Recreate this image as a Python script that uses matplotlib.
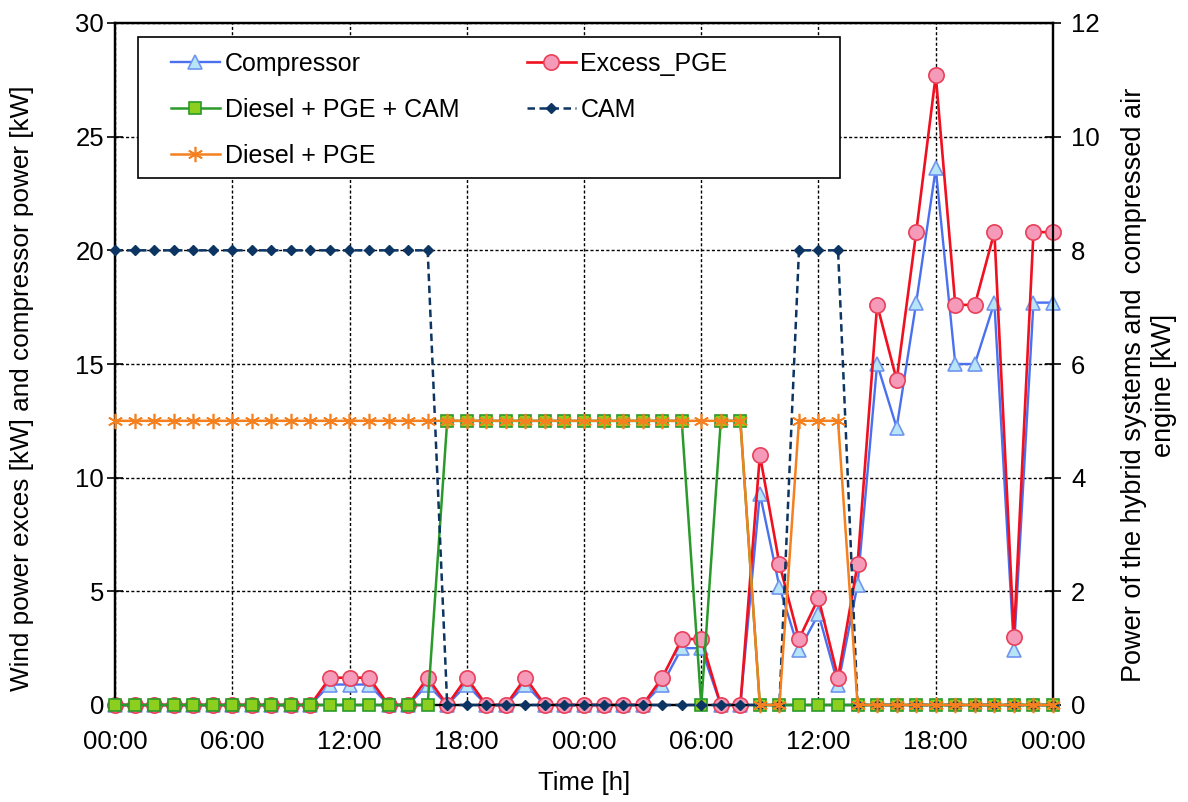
import numpy as np
import matplotlib
matplotlib.use("Agg")
import matplotlib.pyplot as plt
from matplotlib.patches import Rectangle

plt.rcParams['font.family'] = ['Liberation Sans', 'DejaVu Sans']

hours = list(range(49))
tick_hours = [0, 6, 12, 18, 24, 30, 36, 42, 48]
tick_labels = ["00:00", "06:00", "12:00", "18:00", "00:00", "06:00", "12:00", "18:00", "00:00"]

compressor = [0]*11 + [0.9, 0.9, 0.9, 0, 0, 0.9, 0, 0.9, 0, 0, 0.9,
                       0, 0, 0, 0, 0, 0, 0.9, 2.5, 2.5, 0, 0,
                       9.3, 5.2, 2.4, 4.0, 0.9, 5.3, 15.0, 12.2, 17.7, 23.6,
                       15.0, 15.0, 17.7, 2.4, 17.7, 17.7]
excess_pge = [0]*11 + [1.2, 1.2, 1.2, 0, 0, 1.2, 0, 1.2, 0, 0, 1.2,
                       0, 0, 0, 0, 0, 0, 1.2, 2.9, 2.9, 0, 0,
                       11.0, 6.2, 2.9, 4.7, 1.2, 6.2, 17.6, 14.3, 20.8, 27.7,
                       17.6, 17.6, 20.8, 3.0, 20.8, 20.8]
cam = [8]*17 + [0]*18 + [8, 8, 8] + [0]*11
diesel_pge_cam = [0]*17 + [5]*13 + [0, 5, 5] + [0]*16
diesel_pge = [5]*33 + [0, 0, 5, 5, 5] + [0]*11

W, H = 1188, 802
fig = plt.figure(figsize=(W/100, H/100), dpi=100)
ax = fig.add_axes([115/W, 1-705/H, (1053-115)/W, (705-23)/H])
ax2 = ax.twinx()

c_comp_line = '#4a70f0'
c_comp_face = '#b8e4f8'
c_comp_edge = '#6f95f0'
c_exc_line = '#f01020'
c_exc_face = '#f59ab8'
c_exc_edge = '#e8405a'
c_green = '#2a9a2a'
c_green_face = '#8ccf1e'
c_cam = '#0d3563'
c_orange = '#f5801f'

l1, = ax.plot(hours, compressor, color=c_comp_line, lw=1.7, marker='^', ms=10,
              mfc=c_comp_face, mec=c_comp_edge, mew=1.2, clip_on=False, zorder=3,
              label='Compressor')
l2, = ax.plot(hours, excess_pge, color=c_exc_line, lw=1.9, marker='o', ms=11,
              mfc=c_exc_face, mec=c_exc_edge, mew=1.2, clip_on=False, zorder=4,
              label='Excess_PGE')

l3, = ax2.plot(hours, diesel_pge_cam, color=c_green, lw=1.8, marker='s', ms=8.5,
               mfc=c_green_face, mec=c_green, mew=1.2, clip_on=False, zorder=3,
               label='Diesel + PGE + CAM')
l4, = ax2.plot(hours, cam, color=c_cam, lw=1.8, ls=(0, (3, 1.8)), marker='D', ms=5.5,
               mfc=c_cam, mec=c_cam, clip_on=False, zorder=4, label='CAM')
l5, = ax2.plot(hours, diesel_pge, color=c_orange, lw=1.8, marker=(6, 2, 0), ms=11,
               mec=c_orange, mew=1.2, clip_on=False, zorder=5, label='Diesel + PGE')

ax.set_xlim(0, 48)
ax.set_ylim(0, 30)
ax2.set_ylim(0, 12)
ax.set_xticks(tick_hours)
ax.set_xticklabels(tick_labels)
ax.set_yticks([0, 5, 10, 15, 20, 25, 30])
ax2.set_yticks([0, 2, 4, 6, 8, 10, 12])

ax.grid(True, color='black', lw=1.0, ls=(0, (2.2, 1.6)))
ax.set_axisbelow(True)

for a in (ax, ax2):
    for s in a.spines.values():
        s.set_linewidth(1.6)
        s.set_color('black')

FS = 18.5
ax.tick_params(axis='y', direction='inout', length=12, width=1.2, labelsize=FS, pad=2)
ax2.tick_params(axis='y', direction='inout', length=12, width=1.2, labelsize=FS, pad=7)
ax.tick_params(axis='x', length=0, labelsize=FS, pad=18)

ax.set_xlabel('Time [h]', fontsize=FS, labelpad=12)

fig.text(22/W, 1-388/H, 'Wind power exces [kW] and compressor power [kW]',
         rotation=90, ha='center', va='center', fontsize=18.8)
fig.text(1149/W, 1-385/H, 'Power of the hybrid systems and  compressed air\nengine [kW]',
         rotation=90, ha='center', va='center', fontsize=19.5, multialignment='center',
         linespacing=1.2)

# legend box and legend (on the right axis so they sit above all lines)
ax2.add_patch(Rectangle((138/W, 1-178/H), (840-138)/W, (178-37)/H,
                        transform=fig.transFigure, facecolor='white', edgecolor='black',
                        lw=1.2, zorder=15, clip_on=False))
handles = [l1, l3, l5, l2, l4]
leg = ax2.legend(handles=handles, loc='upper left',
                 bbox_to_anchor=(171/W, 1-52/H), bbox_transform=fig.transFigure,
                 ncol=2, frameon=False, fontsize=18, handlelength=1.95,
                 handletextpad=0.2, labelspacing=0.88, columnspacing=2.7,
                 borderaxespad=0, borderpad=0)
leg.set_zorder(20)

fig.savefig('out.png', dpi=100)
